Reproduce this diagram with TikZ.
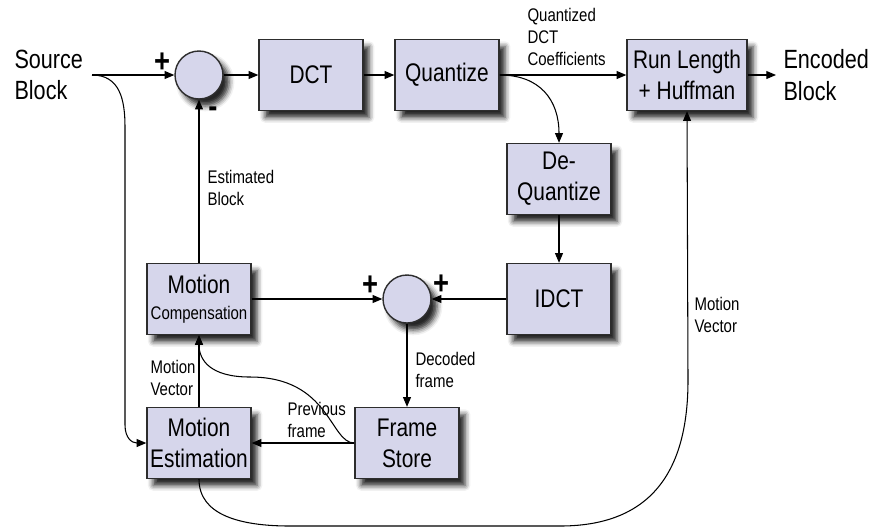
\documentclass[tikz,border=0pt]{standalone}
\usepackage{fontspec}
\setmainfont{Liberation Sans}[FakeStretch=0.82]
\usetikzlibrary{arrows.meta,shadows.blur,calc}

\definecolor{boxfill}{RGB}{214,214,235}
\definecolor{boxline}{RGB}{45,45,45}

\tikzset{
  shade/.style={blur shadow={shadow xshift=3.5pt,shadow yshift=-4pt,shadow blur radius=3pt,shadow opacity=85}},
  block/.style={draw=boxline,line width=0.8pt,fill=boxfill,minimum width=2.08cm,minimum height=1.42cm,
    align=center,inner sep=1pt,font=\fontsize{14.5}{17.5}\selectfont,shade},
  sumnode/.style={circle,draw=boxline,line width=0.8pt,fill=boxfill,minimum size=0.96cm,inner sep=0pt,shade},
  lbl/.style={font=\fontsize{10.4}{12.3}\selectfont,align=left,anchor=west,inner sep=0pt},
  io/.style={font=\fontsize{15}{18}\selectfont,align=left,anchor=west,inner sep=0pt},
  sign/.style={font=\fontsize{19}{19}\selectfont\bfseries,inner sep=0pt}
}

\begin{document}
\begin{tikzpicture}[x=0.02cm,y=-0.02cm,line width=0.6pt,>={Triangle[length=5.5pt,width=4.5pt]}]
    \useasboundingbox (0,0) rectangle (888,529);

    % forward path
    \node[io] (source) at (14,75) {Source\\Block};
    \coordinate (src) at (92,75);
    \node[sumnode] (sum1) at (199,75) {};
    \node[block] (dct) at (311,75) {DCT};
    \node[block] (quant) at (447,75) {Quantize};
    \node[block,minimum width=2.4cm] (rlh) at (687,75) {Run Length\\+ Huffman};
    \coordinate (enc) at (776,75);
    \node[io] (encoded) at (783,75) {Encoded\\Block};

    % reconstruction loop
    \node[block] (dequant) at (559,179) {De-\\Quantize};
    \node[block] (idct) at (559,299) {IDCT};
    \node[sumnode] (sum2) at (407,299) {};
    \node[block] (mcomp) at (199,299) {Motion\\[-3pt]{\fontsize{10.4}{12}\selectfont Compensation}};
    \node[block] (mest) at (199,443) {Motion\\Estimation};
    \node[block] (fstore) at (407,443) {Frame\\Store};

    % signs at the adders
    \node[sign] at (162,63) {+};
    \node[sign] at (213,112) {-};
    \node[sign] at (370,286) {+};
    \node[sign] at (441,285) {+};

    % labels
    \node[lbl] (estlbl) at (207,188) {Estimated\\Block};
    \node[lbl] (coeflbl) at (527,37) {Quantized\\DCT\\Coefficients};
    \node[lbl] (mvlbl) at (694,315) {Motion\\Vector};
    \node[lbl] (mvlbl2) at (150,378) {Motion\\Vector};
    \node[lbl] (prevlbl) at (287,420) {Previous\\frame};
    \node[lbl] (declbl) at (415,370) {Decoded\\frame};

    \draw[->] (src) -- (sum1.west);
    \draw[->] (sum1.east) -- (dct.west);
    \draw[->] (dct.east) -- (quant.west);
    \draw[->] (quant.east) -- (rlh.west);
    \draw[->] (rlh.east) -- (enc);
    \draw[->] (quant.east) .. controls (540,75) and (559,100) .. (dequant.north);
    \draw[->] (dequant.south) -- (idct.north);
    \draw[->] (idct.west) -- (sum2.east);
    \draw[->] (mcomp.east) -- (sum2.west);
    \draw[->] (sum2.south) -- (fstore.north);
    \draw[->] (fstore.west) -- (mest.east);
    \draw[->] (mest.north) -- (mcomp.south);
    \draw[->] (mcomp.north) -- (sum1.south);

    % source block into the motion estimator
    \draw[->] (src) .. controls (120,75) and (125,100) .. (125,127) -- (125,425)
        .. controls (125,438) and (132,443) .. (mest.west);
    % previous frame into motion compensation
    \draw[->] (fstore.west) .. controls (330,443) and (330,377) .. (250,377)
        .. controls (210,377) and (199,360) .. (mcomp.south);
    % motion vector to the entropy coder
    \draw[->] (mest.south) .. controls (199,515) and (240,526) .. (290,526) -- (560,526)
        .. controls (660,526) and (688,460) .. (688,380) -- (rlh.south);
\end{tikzpicture}
\end{document}
